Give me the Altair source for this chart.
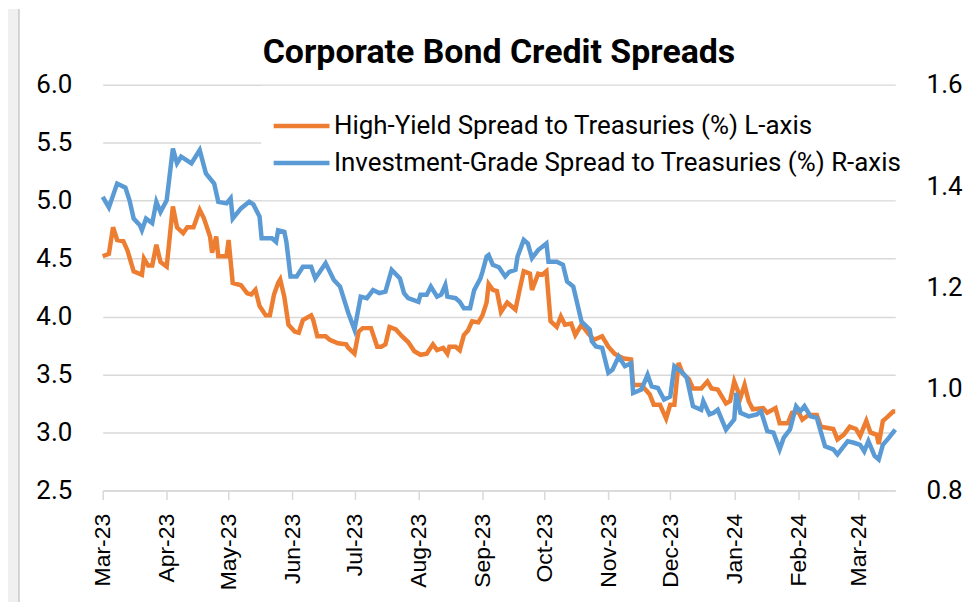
import altair as alt
import pandas as pd

START = "2023-03-01"

title_text = "Corporate Bond Credit Spreads"
hy_label = "High-Yield Spread to Treasuries (%) L-axis"
ig_label = "Investment-Grade Spread to Treasuries (%) R-axis"

# day offsets from 2023-03-01 and values
hy_day = [0, 3, 5, 7, 10, 12, 15, 19, 20, 22, 24, 26, 28, 31, 34, 36, 39, 41, 44, 47,
          49, 52, 53, 55, 56, 60, 61, 63, 67, 70, 72, 74, 76, 79, 81, 83, 85, 86, 88, 90,
          93, 95, 97, 101, 102, 104, 108, 110, 114, 118, 119, 122, 124, 126, 130, 133, 135, 137, 139, 142,
          145, 148, 151, 154, 157, 160, 162, 165, 167, 168, 171, 173, 175, 177, 179, 182, 184, 186, 187, 189,
          191, 193, 196, 200, 202, 204, 207, 208, 211, 213, 215, 217, 220, 222, 224, 227, 229, 232, 235, 238,
          242, 245, 248, 252, 256, 257, 261, 265, 267, 270, 273, 275, 277, 279, 281, 284, 286, 290, 293, 295,
          298, 302, 304, 306, 309, 311, 313, 315, 320, 322, 326, 328, 332, 334, 337, 339, 342, 346, 348, 354,
          356, 359, 362, 365, 367, 370, 372, 375, 376, 378, 380, 383, 384]
hy_val = [4.52, 4.54, 4.77, 4.66, 4.65, 4.57, 4.39, 4.36, 4.50, 4.44, 4.44, 4.62, 4.47, 4.43, 4.95, 4.77, 4.72, 4.77, 4.77, 4.92,
          4.85, 4.69, 4.55, 4.69, 4.52, 4.52, 4.66, 4.29, 4.27, 4.20, 4.19, 4.23, 4.09, 4.01, 4.01, 4.19, 4.29, 4.32, 4.17, 3.93,
          3.87, 3.86, 3.97, 4.01, 3.97, 3.83, 3.83, 3.80, 3.77, 3.76, 3.73, 3.68, 3.87, 3.90, 3.90, 3.74, 3.74, 3.76, 3.91, 3.89,
          3.83, 3.78, 3.70, 3.67, 3.68, 3.76, 3.71, 3.73, 3.68, 3.74, 3.74, 3.71, 3.84, 3.88, 3.96, 3.95, 4.01, 4.12, 4.28, 4.23,
          4.22, 4.04, 4.12, 4.06, 4.23, 4.39, 4.37, 4.23, 4.37, 4.36, 4.39, 3.96, 3.91, 4.00, 3.93, 3.94, 3.84, 3.93, 3.86, 3.80,
          3.83, 3.74, 3.68, 3.64, 3.63, 3.41, 3.41, 3.33, 3.24, 3.24, 3.12, 3.24, 3.24, 3.60, 3.51, 3.46, 3.38, 3.38, 3.44, 3.38,
          3.37, 3.25, 3.27, 3.44, 3.30, 3.41, 3.27, 3.20, 3.21, 3.17, 3.21, 3.08, 3.08, 3.17, 3.18, 3.11, 3.15, 3.15, 3.05, 3.03,
          2.94, 2.98, 3.05, 3.03, 2.97, 3.10, 3.00, 2.98, 2.90, 3.10, 3.13, 3.18, 3.18]

ig_day = [0, 3, 7, 11, 13, 15, 18, 19, 21, 24, 26, 28, 31, 34, 36, 38, 43, 47, 50, 54,
          56, 60, 62, 63, 67, 71, 73, 76, 77, 82, 84, 85, 88, 89, 91, 94, 97, 101, 103, 108,
          112, 115, 119, 122, 125, 128, 131, 134, 137, 140, 144, 146, 148, 153, 154, 157, 159, 162, 164, 166,
          167, 171, 173, 175, 178, 180, 183, 184, 186, 187, 189, 192, 195, 197, 200, 201, 204, 206, 208, 211,
          215, 216, 220, 223, 225, 228, 232, 236, 237, 239, 242, 245, 247, 250, 253, 256, 257, 261, 264, 266,
          269, 272, 275, 277, 281, 283, 286, 290, 291, 294, 296, 298, 302, 306, 307, 309, 313, 317, 319, 322,
          325, 328, 330, 333, 336, 338, 340, 343, 346, 350, 354, 356, 361, 364, 367, 369, 371, 374, 376, 378,
          381, 384]
ig_val = [1.379, 1.358, 1.405, 1.397, 1.372, 1.336, 1.323, 1.313, 1.336, 1.327, 1.369, 1.349, 1.372, 1.474, 1.445, 1.458, 1.445, 1.471, 1.425, 1.405,
          1.369, 1.366, 1.376, 1.336, 1.356, 1.369, 1.364, 1.340, 1.297, 1.297, 1.290, 1.313, 1.310, 1.290, 1.222, 1.222, 1.241, 1.241, 1.218, 1.248,
          1.215, 1.202, 1.150, 1.117, 1.182, 1.179, 1.195, 1.189, 1.192, 1.235, 1.218, 1.189, 1.179, 1.172, 1.186, 1.186, 1.202, 1.182, 1.186, 1.205,
          1.182, 1.179, 1.172, 1.159, 1.159, 1.195, 1.218, 1.231, 1.261, 1.264, 1.245, 1.240, 1.222, 1.231, 1.235, 1.261, 1.294, 1.287, 1.258, 1.274,
          1.287, 1.251, 1.251, 1.245, 1.212, 1.202, 1.133, 1.117, 1.094, 1.084, 1.081, 1.032, 1.038, 1.064, 1.045, 1.051, 0.992, 0.999, 1.028, 1.005,
          1.002, 0.979, 0.985, 1.045, 1.032, 1.022, 0.966, 0.959, 0.976, 0.950, 0.953, 0.959, 0.920, 0.940, 0.992, 0.953, 0.946, 0.950, 0.956, 0.917,
          0.914, 0.881, 0.904, 0.920, 0.966, 0.956, 0.966, 0.946, 0.943, 0.887, 0.881, 0.871, 0.897, 0.894, 0.890, 0.877, 0.897, 0.868, 0.861, 0.890,
          0.904, 0.920]

left_ticks = [2.5, 3.0, 3.5, 4.0, 4.5, 5.0, 5.5, 6.0]
right_ticks = [0.8, 1.0, 1.2, 1.4, 1.6]
colors = ["#ED7D31", "#5B9BD5"]

start = pd.Timestamp(START)
hy = pd.DataFrame({"date": start + pd.to_timedelta(hy_day, unit="D"), "value": hy_val, "series": hy_label})
ig = pd.DataFrame({"date": start + pd.to_timedelta(ig_day, unit="D"), "value": ig_val, "series": ig_label})

GRID = "#d9d9d9"
W, H = 795, 407

x_enc = alt.X(
    "date:T",
    title=None,
    scale=alt.Scale(domain=[alt.DateTime(year=2023, month=3, date=1),
                            alt.DateTime(year=2024, month=3, date=19)]),
    axis=alt.Axis(format="%b-%y", tickCount={"interval": "month", "step": 1},
                  labelAngle=270, labelAlign="right", labelBaseline="middle",
                  labelFont="Liberation Sans", labelFontSize=23, labelColor="black",
                  labelPadding=14, labelFlush=False, labelOverlap=False,
                  tickSize=9, tickColor=GRID, tickWidth=1.5,
                  domainColor=GRID, domainWidth=1.5, grid=False),
)

color_enc = alt.Color(
    "series:N",
    scale=alt.Scale(domain=[hy_label, ig_label], range=colors),
    legend=alt.Legend(title=None, orient="none", legendX=159, legendY=1,
                      direction="vertical", padding=24, fillColor="white",
                      symbolType="M-2,0H2", symbolSize=784, symbolStrokeWidth=4.5,
                      symbolFillColor="transparent",
                      labelFont="Roboto", labelFontSize=26, labelColor="black",
                      labelOffset=16, rowPadding=7, labelLimit=800),
)

hy_line = alt.Chart(hy).mark_line(strokeWidth=4.5).encode(
    x=x_enc,
    y=alt.Y("value:Q", title=None,
            scale=alt.Scale(domain=[2.5, 6.0], nice=False, zero=False),
            axis=alt.Axis(values=left_ticks, format=".1f", orient="left",
                          labelFont="Roboto", labelFontSize=26, labelColor="black",
                          labelPadding=31, ticks=False, domain=False,
                          grid=True, gridColor=GRID, gridWidth=1.5)),
    color=color_enc,
)

ig_line = alt.Chart(ig).mark_line(strokeWidth=4.5).encode(
    x=x_enc,
    y=alt.Y("value:Q", title=None,
            scale=alt.Scale(domain=[0.8, 1.6], nice=False, zero=False),
            axis=alt.Axis(values=right_ticks, format=".1f", orient="right",
                          labelFont="Roboto", labelFontSize=26, labelColor="black",
                          labelPadding=31, ticks=False, domain=False, grid=False)),
    color=color_enc,
)

# light grey page strip and frame edge at the left of the picture
frame = pd.DataFrame({"k": [0]})
strip = alt.Chart(frame).mark_rect(color="#f0f0f0").encode(
    x=alt.value(-95), x2=alt.value(-84), y=alt.value(-76), y2=alt.value(519))
edge = alt.Chart(frame).mark_rule(color="#c8c8c8", strokeWidth=1.5).encode(
    x=alt.value(-84), y=alt.value(-76), y2=alt.value(519))

title = alt.Chart(frame).mark_text(
    font="Roboto", fontSize=34, fontWeight="bold", color="black",
    align="center", baseline="alphabetic",
).encode(text=alt.value(title_text), x=alt.value(W / 2), y=alt.value(-22))

chart = alt.layer(strip, edge, title, hy_line, ig_line).resolve_scale(y="independent").properties(
    width=W,
    height=H,
    autosize=alt.AutoSizeParams(type="none"),
    padding={"left": 95, "top": 76, "right": 70, "bottom": 112},
    background="white",
).configure_view(stroke=None)

chart.save("out.html", embed_options={"renderer": "svg", "actions": False})
